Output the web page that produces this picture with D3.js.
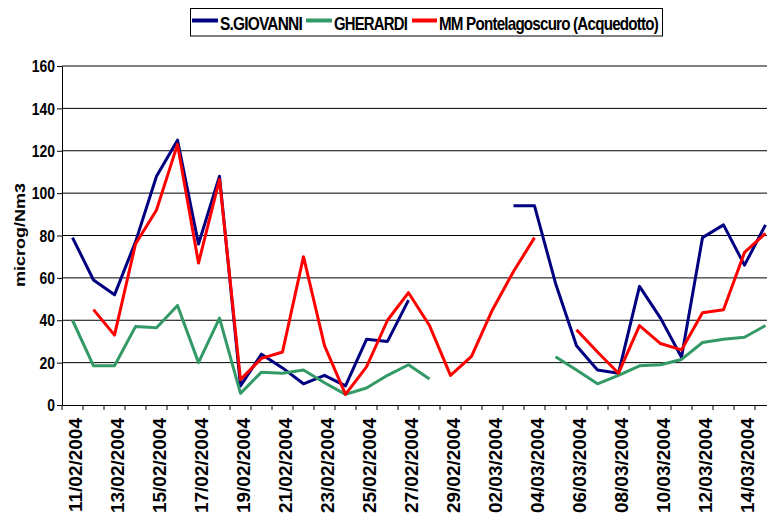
<!DOCTYPE html>
<html><head><meta charset="utf-8">
<script src="https://cdn.jsdelivr.net/npm/d3@7"></script>
<style>
html,body{margin:0;padding:0;background:#fff;overflow:hidden;}
svg{display:block;}
text{font-family:"Liberation Sans",Arial,sans-serif;font-weight:bold;fill:#000;}
</style></head>
<body>
<script>
const dates = ["11/02/2004","12/02/2004","13/02/2004","14/02/2004","15/02/2004","16/02/2004","17/02/2004","18/02/2004","19/02/2004","20/02/2004",
"21/02/2004","22/02/2004","23/02/2004","24/02/2004","25/02/2004","26/02/2004","27/02/2004","28/02/2004","29/02/2004","01/03/2004",
"02/03/2004","03/03/2004","04/03/2004","05/03/2004","06/03/2004","07/03/2004","08/03/2004","09/03/2004","10/03/2004","11/03/2004",
"12/03/2004","13/03/2004","14/03/2004","15/03/2004"];
const sGiovanni = [79,59,52,77,108,125,76,108,9,24,17.5,10,14,9,31,30,49.5,null,null,null,null,94,94,57.5,28,16.5,15,56,41,22.5,79,85,66,85];
const gherardi  = [40,18.5,18.5,37,36.5,47,20,41,5.5,15.5,15,16.5,10.5,5,8,14,19,12.3,null,null,null,null,null,22.8,16.5,10,14,18.5,19,21.5,29.5,31,32,37.5];
const pontelago = [null,45,33,76,92,123,67,106.5,12,22,25,70,28,5,18,40,53,37.5,14,23,45,63,79,null,35.5,25,15,37.5,29,26,43.5,45,72,81];
const yTicks = [0,20,40,60,80,100,120,140,160];
const seriesNames = ["S.GIOVANNI","GHERARDI","MM Pontelagoscuro (Acquedotto)"];
const seriesColors = ["#000080","#339966","#ff0000"];

const W = 767, H = 515;
const pLeft = 62, pTop = 66, pBottom = 405, pRight = 62 + 21*dates.length;

const svg = d3.select("body").append("svg").attr("width", W).attr("height", H);

const x = d3.scaleBand().domain(dates).range([pLeft, pRight]).padding(0);
const y = d3.scaleLinear().domain([0,160]).range([pBottom, pTop]);

// grid lines
svg.append("g").selectAll("line").data(yTicks.filter(t => t > 0)).join("line")
  .attr("x1", pLeft).attr("x2", pRight)
  .attr("y1", d => y(d)).attr("y2", d => y(d))
  .attr("stroke", "#000").attr("stroke-width", 1);

// y axis
const yAxis = svg.append("g").attr("transform", `translate(${pLeft},0)`)
  .call(d3.axisLeft(y).tickValues(yTicks).tickSize(5).tickSizeOuter(0).tickFormat(d3.format("d")));
yAxis.select(".domain").attr("stroke", "#000");
yAxis.selectAll(".tick line").attr("stroke", "#000");
yAxis.selectAll(".tick text").remove();
svg.append("g").selectAll("text").data(yTicks).join("text")
  .attr("transform", d => `translate(55,${y(d)}) scale(0.82,1)`)
  .attr("text-anchor", "end").attr("dy", "0.36em")
  .style("font-size", "17px")
  .text(d => d);

// x axis
const xAxis = svg.append("g").attr("transform", `translate(0,${pBottom})`)
  .call(d3.axisBottom(x).tickSize(0).tickFormat(""));
xAxis.select(".domain").attr("stroke", "#000").attr("stroke-width", 1);
xAxis.selectAll(".tick").remove();
svg.append("g").selectAll("line").data(d3.range(dates.length + 1)).join("line")
  .attr("x1", i => pLeft + x.step()*i).attr("x2", i => pLeft + x.step()*i)
  .attr("y1", pBottom).attr("y2", pBottom + 5)
  .attr("stroke", "#000");

svg.append("g").selectAll("text").data(dates.filter((d,i) => i % 2 === 0)).join("text")
  .attr("transform", d => `translate(${x(d) + x.bandwidth()/2 + 3},418) rotate(-90)`)
  .attr("text-anchor", "end").attr("dy", "0.36em")
  .style("font-size", "19px")
  .text(d => d);

// y title
svg.append("text")
  .attr("transform", "translate(20,235) scale(0.8,1) rotate(-90)")
  .attr("text-anchor", "middle").attr("dy", "0.35em")
  .style("font-size", "18px")
  .text("microg/Nm3");

// lines
const cx = i => x(dates[i]) + x.bandwidth()/2;
const line = d3.line().defined(d => d != null).x((d,i) => cx(i)).y(d => y(d));
[sGiovanni, gherardi, pontelago].forEach((s, k) => {
  svg.append("path").datum(s).attr("d", line)
    .attr("fill", "none").attr("stroke", seriesColors[k])
    .attr("stroke-width", 3).attr("stroke-linejoin", "round");
});

// legend
const lg = svg.append("g");
lg.append("rect").attr("x", 190.5).attr("y", 8.5).attr("width", 472).attr("height", 27.5)
  .attr("fill", "#fff").attr("stroke", "#000").attr("stroke-width", 1);
const legendItems = [
  {lx1:192, lx2:218, tx:220, tw:82},
  {lx1:306, lx2:332, tx:334, tw:73},
  {lx1:412, lx2:437, tx:439, tw:219}
];
legendItems.forEach((it, k) => {
  lg.append("line").attr("x1", it.lx1).attr("x2", it.lx2).attr("y1", 20.5).attr("y2", 20.5)
    .attr("stroke", seriesColors[k]).attr("stroke-width", 4);
  lg.append("text").attr("x", it.tx).attr("y", 30)
    .attr("textLength", it.tw).attr("lengthAdjust", "spacingAndGlyphs")
    .style("font-size", "19px").style("letter-spacing", "-1px")
    .text(seriesNames[k]);
});
</script>
</body></html>
